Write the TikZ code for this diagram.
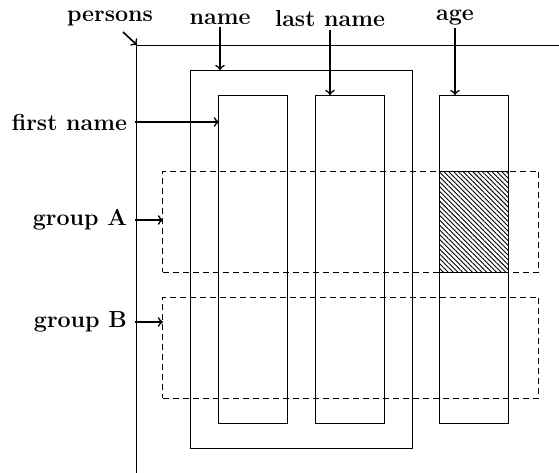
\documentclass[tikz,border=0pt]{standalone}
\usetikzlibrary{patterns.meta}
\begin{document}
\begin{tikzpicture}[x=0.5pt,y=-0.5pt,
  lbl/.style={font=\fontsize{11.6}{14}\selectfont\bfseries, inner sep=1pt},
  slbl/.style={lbl, anchor=east, outer sep=3pt},
  box/.style={draw, line width=0.5pt, inner sep=0pt, outer sep=0pt},
  grp/.style={draw, line width=0.5pt, dash pattern=on 3pt off 2pt, inner sep=0pt, outer sep=0pt},
  arr/.style={->, line width=0.8pt, >=to},
  axis/.style={line width=0.5pt}]
\useasboundingbox (0,0) rectangle (559,473);
% axes
\coordinate (corner) at (137,45);
\coordinate (axr) at (559,45);
\coordinate (axb) at (137,473);
\draw[axis] (axr) -- (corner) -- (axb);
% rectangles
\node[box, minimum width=111pt, minimum height=189pt] (big) at (302,259) {};
\node[box, minimum width=34.5pt, minimum height=164pt] (cname) at (253.5,259) {};
\node[box, minimum width=34.5pt, minimum height=164pt] (clast) at (350.5,259) {};
\node[box, minimum width=34.5pt, minimum height=164pt] (cage) at (474.5,259) {};
\node[box, pattern={Lines[angle=-45,distance=1.7pt,line width=0.45pt]}, minimum width=34.5pt, minimum height=50.5pt] (hatch) at (474.5,221.5) {};
\node[grp, minimum width=188pt, minimum height=50.5pt] (ga) at (351,221.5) {};
\node[grp, minimum width=188pt, minimum height=50.5pt] (gb) at (351,347.5) {};
% labels
\node[lbl] (persons) at (110,18) {persons};
\node[lbl] (namel) at (220,19) {name};
\node[lbl] (lastl) at (330,19) {last name};
\node[lbl] (agel) at (455,18) {age};
\node[slbl] (firstl) at (135,122) {first name};
\node[slbl] (gal) at (135,220) {group A};
\node[slbl] (gbl) at (135,322) {group B};
% arrows
\coordinate (pstart) at (123,32);
\draw[arr] (pstart) -- (corner);
\draw[arr] (namel.south -| 220,0) -- (220,70 |- big.north);
\draw[arr] (lastl.south -| 330,0) -- (330,95 |- clast.north);
\draw[arr] (agel.south -| 455,0) -- (455,95 |- cage.north);
\draw[arr] (firstl.east) -- (firstl.east -| cname.west);
\draw[arr] (gal.east) -- (gal.east -| ga.west);
\draw[arr] (gbl.east) -- (gbl.east -| gb.west);
\end{tikzpicture}
\end{document}
